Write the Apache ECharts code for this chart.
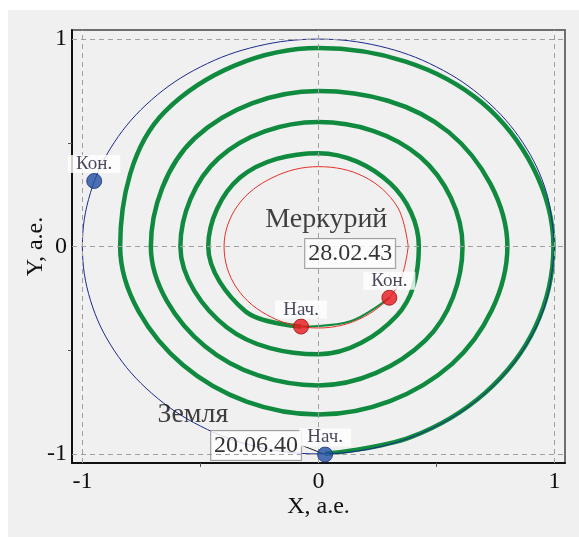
<!DOCTYPE html>
<html>
<head>
<meta charset="utf-8">
<script src="https://cdn.jsdelivr.net/npm/echarts@6/dist/echarts.min.js"></script>
<style>
  html, body { margin: 0; padding: 0; background: #ffffff; }
  #chart { width: 579px; height: 537px; }
</style>
</head>
<body>
<div id="chart"></div>
<script>
// ---- Axes (а.е.) ----
const axisExtent = 1.044;
const axisLabelValues = [-1, 0, 1];
const axisTickValues = [-0.5, 0.5];
const gridLineValues = [-1, 0, 1];

// ---- Earth orbit ----
const earthOrbitRadius = 1.0;
const orbitAngleStep = 15;            // degrees between orbit samples

// ---- Mercury orbit: radius every 30°, counterclockwise from +X ----
const mercuryAngleStep = 30;
const mercuryOrbitRadii = [0.380, 0.385, 0.388, 0.385, 0.385, 0.395, 0.400, 0.400, 0.395, 0.393, 0.390, 0.386, 0.380];

// ---- Transfer spiral (powered part): polar samples, cumulative degrees ----
// departure leg, riding along Earth's orbit
const spiralLeadInAngles = [271.6, 293, 315, 337];
const spiralLeadInRadii = [1.0, 0.999, 0.998, 0.997];
// then one sample every 45°
const spiralSampleStart = 360;
const spiralSampleStep = 45;
const spiralRadii = [
  0.995, 0.98, 0.957, 0.92, 0.84, 0.81, 0.81,
  0.80, 0.80, 0.78, 0.75, 0.74, 0.71, 0.68, 0.67,
  0.64, 0.61, 0.61, 0.60, 0.60, 0.585, 0.55, 0.52,
  0.47, 0.425, 0.43, 0.45, 0.47, 0.467, 0.44
];
// final arc along Mercury's orbit, from Mercury's launch-day position to arrival
const finalArcAngles = [1699.2, 1730, 1760.5];
const finalArcRadii = [0.393, 0.385, 0.389];

// ---- Positions of the planets at launch / arrival ----
const earthStart = [0.028, -1.003];
const earthEnd = [-0.950, 0.316];
const mercuryStart = [-0.074, -0.386];
const mercuryEnd = [0.300, -0.247];
const launchDate = '20.06.40';
const arrivalDate = '28.02.43';

// ---- Caption anchors ----
const earthCaptionPos = [-0.532, -0.812];
const mercuryCaptionPos = [0.033, 0.128];
const arrivalDatePos = [0.134, -0.034];

// ---- Helpers ----
const rad = d => d * Math.PI / 180;
const polar = (r, deg) => [r * Math.cos(rad(deg)), r * Math.sin(rad(deg))];

const earthOrbit = [];
for (let a = 0; a <= 360; a += orbitAngleStep) earthOrbit.push(polar(earthOrbitRadius, a));

const mercuryOrbit = mercuryOrbitRadii.map((r, i) => polar(r, i * mercuryAngleStep));

const spiral = spiralLeadInRadii.map((r, i) => polar(r, spiralLeadInAngles[i]));
spiralRadii.forEach((r, i) => spiral.push(polar(r, spiralSampleStart + i * spiralSampleStep)));
const finalArc = finalArcRadii.map((r, i) => polar(r, finalArcAngles[i]));
spiral.push(finalArc[0]);

const SERIF = '"Liberation Serif", "DejaVu Serif", serif';
const ARC_SMOOTH = 0.36;

const smallTag = {
  show: true,
  position: 'top',
  distance: 0,
  fontFamily: SERIF,
  fontSize: 19,
  lineHeight: 18,
  color: '#1a1a33',
  backgroundColor: '#ffffff',
  padding: [0, 8]
};
const dateBox = {
  fontFamily: SERIF,
  fontSize: 24,
  lineHeight: 27,
  color: '#000',
  backgroundColor: '#ffffff',
  borderColor: '#8a8a8a',
  borderWidth: 1,
  padding: [1, 3]
};

const chart = echarts.init(document.getElementById('chart'), null, { renderer: 'canvas' });

const axisCommon = {
  type: 'value',
  min: -axisExtent,
  max: axisExtent,
  nameLocation: 'middle',
  nameMoveOverlap: false,
  nameTextStyle: { fontFamily: SERIF, fontSize: 24, color: '#111' },
  axisLine: { show: true, onZero: false, lineStyle: { color: '#111', width: 2 } },
  axisTick: { show: true, customValues: axisTickValues, length: 4, lineStyle: { color: '#555', width: 1 } },
  axisLabel: { customValues: axisLabelValues, fontFamily: SERIF, fontSize: 24, color: '#111' },
  splitLine: { show: false }
};

chart.setOption({
  animation: false,
  backgroundColor: 'transparent',
  graphic: [{
    type: 'rect', z: -10, silent: true,
    shape: { x: 8, y: 10, width: 571, height: 527 },
    style: { fill: '#f0f0f0' }
  }],
  grid: {
    left: 72, top: 30, width: 493, height: 433,
    show: true, borderColor: '#6e6e6e', borderWidth: 2, backgroundColor: '#f0f0f0'
  },
  xAxis: Object.assign({}, axisCommon, {
    name: 'X, а.е.', nameGap: 32,
    axisLabel: Object.assign({}, axisCommon.axisLabel, { margin: 7 })
  }),
  yAxis: Object.assign({}, axisCommon, {
    name: 'Y, а.е.', nameGap: 24,
    axisLabel: Object.assign({}, axisCommon.axisLabel, { margin: 5 })
  }),
  series: [
    {
      // dashed reference grid
      type: 'line', data: [], silent: true, z: 1,
      markLine: {
        silent: true, symbol: 'none', label: { show: false },
        lineStyle: { type: [5, 4], color: '#a0a0a0', width: 1 },
        data: gridLineValues.map(v => ({ xAxis: v })).concat(gridLineValues.map(v => ({ yAxis: v })))
      }
    },
    {
      name: 'Траектория', type: 'line', data: spiral, smooth: ARC_SMOOTH,
      showSymbol: false, z: 2,
      lineStyle: { color: '#0f8a3e', width: 4.5 }
    },
    {
      name: 'Сближение', type: 'line', data: finalArc, smooth: ARC_SMOOTH,
      showSymbol: false, z: 2,
      lineStyle: { color: '#0f8a3e', width: 2 }
    },
    {
      name: 'Земля', type: 'line', data: earthOrbit, smooth: ARC_SMOOTH,
      showSymbol: false, z: 3,
      lineStyle: { color: '#1c2a8c', width: 1 }
    },
    {
      name: 'Меркурий', type: 'line', data: mercuryOrbit, smooth: ARC_SMOOTH,
      showSymbol: false, z: 3,
      lineStyle: { color: '#e5302a', width: 1 }
    },
    {
      // launch date box with leader to Earth's start position
      type: 'scatter', z: 4, symbolSize: 1, itemStyle: { color: 'rgba(0,0,0,0)' },
      data: [earthStart],
      label: Object.assign({ show: true, position: 'inside', formatter: launchDate }, dateBox),
      labelLayout: { dx: -69, dy: -9 },
      labelLine: { show: true, lineStyle: { color: '#222', width: 1 } }
    },
    {
      type: 'scatter', z: 6, symbol: 'circle', symbolSize: 15,
      itemStyle: { color: '#2050a4', borderColor: '#15306e', borderWidth: 1 },
      data: [
        { value: earthStart, label: Object.assign({}, smallTag, { formatter: 'Нач.' }) },
        { value: earthEnd, label: Object.assign({}, smallTag, { formatter: 'Кон.' }) }
      ]
    },
    {
      type: 'scatter', z: 6, symbol: 'circle', symbolSize: 15,
      itemStyle: { color: '#e8161c', borderColor: '#9a0c0c', borderWidth: 1 },
      data: [
        { value: mercuryStart, label: Object.assign({}, smallTag, { formatter: 'Нач.' }) },
        { value: mercuryEnd, label: Object.assign({}, smallTag, { formatter: 'Кон.' }) }
      ]
    },
    {
      type: 'scatter', z: 5, symbolSize: 0, silent: true,
      data: [
        { value: earthCaptionPos, label: { show: true, position: 'inside', formatter: 'Земля', fontFamily: SERIF, fontSize: 28, color: '#111' } },
        { value: mercuryCaptionPos, label: { show: true, position: 'inside', formatter: 'Меркурий', fontFamily: SERIF, fontSize: 28, color: '#111' } },
        { value: arrivalDatePos, label: Object.assign({ show: true, position: 'inside', formatter: arrivalDate }, dateBox) }
      ]
    }
  ]
});
</script>
</body>
</html>
